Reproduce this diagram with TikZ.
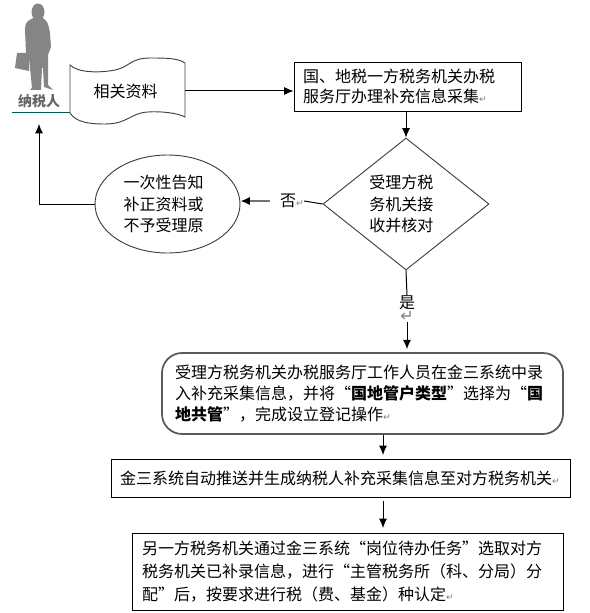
\documentclass[tikz,border=0pt]{standalone}
\usepackage{fontspec}
\setmainfont{Noto Sans CJK SC}
\newfontfamily\symf{DejaVu Sans}
\usetikzlibrary{shapes.geometric,arrows.meta}
\newdimen\px \px=.75pt
\newcommand{\retm}{{\symf\fontsize{7}{7}\selectfont\textcolor{gray}{↵}}}
\newcommand{\fs}[1]{\fontsize{12}{#1}\selectfont}
\tikzset{
  ln/.style={draw=black,line width=.75pt},
  arr/.style={ln,-{Latex[length=7pt,width=6pt]}},
  boxn/.style={draw=black,line width=.7pt,rectangle,align=left,anchor=center,inner ysep=0pt},
  rbox/.style={boxn,draw=black!65,line width=1.3pt,rounded corners=15pt},
  shp/.style={draw=black!75,line width=.7pt,align=center,inner sep=0pt,anchor=center}
}
\begin{document}
\begin{tikzpicture}[x=.75pt,y=-.75pt]
\useasboundingbox (0,0) rectangle (589,613);
% taxpayer silhouette
\fill[black!48] (38,12) ellipse [x radius=6.5,y radius=8.5];
\fill[black!48] (35,17) -- (28,21) .. controls (25,24) and (25,27) .. (25,30) -- (26,53) -- (29,58) -- (32,88) -- (30,90) -- (41,90) -- (42,68) -- (43,68) -- (44,87) -- (53,90) -- (48,85) -- (48,55) -- (51,47) -- (50,33) .. controls (49,27) and (48,24) .. (47,22) -- (42,17) -- cycle;
\fill[black!48] (17,53) -- (29,53) -- (29,71) -- (15,68) -- cycle;
\node[text=black!60,font=\fontsize{10.5}{12}\selectfont\bfseries,inner sep=0pt] (taxp) at (39,101) {纳税人};
\coordinate (tl) at (12,112);
\coordinate (tr) at (70,112);
\draw[draw=teal!70!black,line width=.7pt] (tl) -- (tr);
% document
\draw[shp] (70,65) .. controls (78,73) and (100,73) .. (115,70) .. controls (130,67) and (130,58) .. (150,58) .. controls (165,58) and (178,58) .. (185,63) -- (185,117) .. controls (178,113) and (160,111) .. (148,112) .. controls (130,113) and (128,124) .. (105,124) .. controls (88,124) and (76,122) .. (70,113) -- cycle;
\node[font=\fs{20},inner sep=0pt] (doc) at (125.5,91) {相关资料};
\coordinate (docr) at (185,91);
% box 1
\node[boxn,minimum height=49\px,inner xsep=9\px,text width=209\px,font=\fs{15}] (b1) at (407.5,86.5) {国、地税一方税务机关办税\\服务厅办理补充信息采集\retm};
\draw[arr] (docr) -- (docr -| b1.west);
% diamond
\node[shp,diamond,minimum width=166\px,minimum height=132\px,font=\fs{16}] (dia) at (406,204) {\hspace*{-7pt}受理方税\\\hspace*{-7pt}务机关接\\\hspace*{-7pt}收并核对};
\draw[arr] (b1.south -| dia.north) -- (dia.north);
% ellipse
\node[shp,ellipse,minimum width=145\px,minimum height=98\px,font=\fs{16}] (ell) at (167.5,204) {\hspace*{-6pt}一次性告知\\\hspace*{-6pt}补正资料或\\\hspace*{-6pt}不予受理原};
% no
\node[inner sep=0pt,font=\fs{15}] (no) at (292,201) {否\retm};
\draw[ln] (dia.west) -- (no.east);
\draw[draw=black!55,line width=1.2pt,-{Latex[length=7pt,width=6pt,black]},shorten <=10\px] (no.west) -- (ell.east |- no.west);
% back to taxpayer
\coordinate (up) at (39,124);
\draw[arr] (ell.west) -- (ell.west -| up) -- (up);
% yes
\node[inner sep=0pt,font=\fs{15}] (yes) at (407,303) {是};
\node[inner sep=0pt,font=\fs{7}] (rmk) at (407,316) {\textcolor{gray}{\symf ↵}};
\draw[ln] (dia.south) -- (yes.north);
% rounded box
\node[rbox,minimum height=81\px,inner xsep=13\px,text width=375\px,font=\fs{15.5}] (b3) at (362.5,393.5) {受理方税务机关办税服务厅工作人员在金三系统中录\\入补充采集信息，并将“\textbf{国地管户类型}”选择为“\textbf{国}\\\textbf{地共管}”，完成设立登记操作\retm};
\coordinate (y3) at (407,322);
\draw[arr,shorten >=3\px] (y3) -- (b3.north -| y3);
% box 4
\node[boxn,minimum height=38\px,inner xsep=9\px,text width=441\px,font=\fs{15}] (b4) at (340.5,478) {金三系统自动推送并生成纳税人补充采集信息至对方税务机关\retm};
\coordinate (a4) at (383,435);
\coordinate (a4e) at (383,455);
\draw[arr] (a4) -- (a4e);
% box 5
\node[boxn,minimum height=77\px,inner xsep=10\px,text width=411\px,font=\fs{17}] (b5) at (347.5,571.5) {另一方税务机关通过金三系统“岗位待办任务”选取对方\\税务机关已补录信息，进行“主管税务所（科、分局）分\\配”后，按要求进行税（费、基金）种认定\retm};
\coordinate (a5) at (383,501);
\coordinate (a5e) at (383,528);
\draw[arr] (a5) -- (a5e);
\end{tikzpicture}
\end{document}
